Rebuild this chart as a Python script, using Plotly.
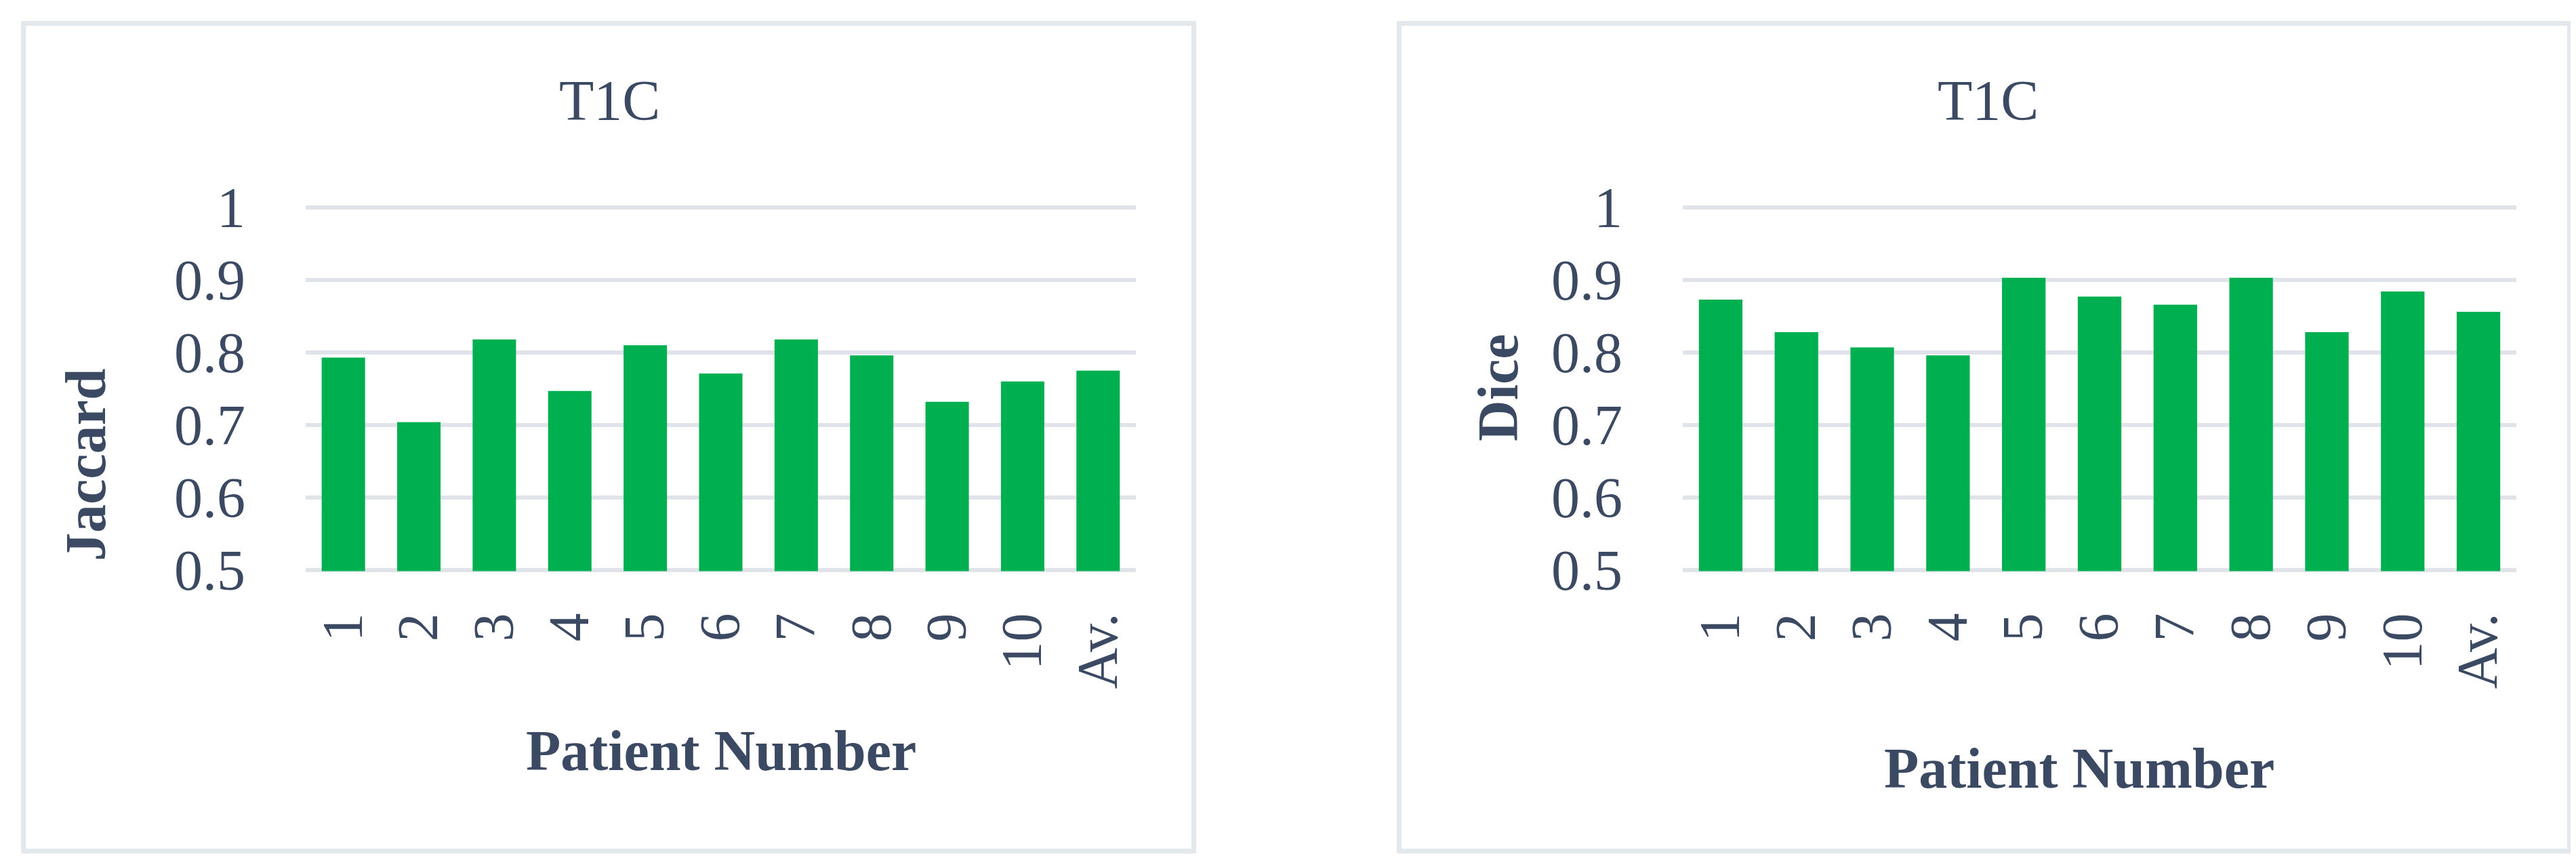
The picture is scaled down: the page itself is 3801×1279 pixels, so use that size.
import plotly.graph_objects as go


# ----------------------------------------
# Data
# ----------------------------------------

patients = ["1", "2", "3", "4", "5", "6", "7", "8", "9", "10", "Av."]

jaccard = [0.793, 0.704, 0.818, 0.747, 0.810, 0.771, 0.818, 0.796, 0.732, 0.760, 0.775]

dice = [0.873, 0.828, 0.807, 0.796, 0.903, 0.877, 0.866, 0.903, 0.828, 0.884, 0.856]

y_ticks = [0.5, 0.6, 0.7, 0.8, 0.9, 1.0]
y_tick_text = ["0.5", "0.6", "0.7", "0.8", "0.9", "1"]


# ----------------------------------------
# Style
# ----------------------------------------

W, H = 3801, 1279

TEXT = "#3B4A62"
GREEN = "#00B050"
GRID = "#E0E4EA"
BORDER = "#E3E8ED"
FONT = "Liberation Serif"
SIZE = 84


def px_x(p):
    return p / W


def px_y(p):
    return 1 - p / H


def x_axis(domain, anchor):

    return dict(
        domain=domain,
        anchor=anchor,
        type="category",
        tickangle=-90,
        automargin=False,
        showgrid=False,
        showline=False,
        zeroline=False,
        ticks="",
        ticklabelstandoff=44,
        tickfont=dict(family=FONT, size=SIZE, color=TEXT)
    )


def y_axis(anchor):

    return dict(
        domain=[px_y(834.6), px_y(296.4)],
        anchor=anchor,
        range=[0.4985, 1.0015],
        tickvals=y_ticks,
        ticktext=y_tick_text,
        automargin=False,
        showgrid=True,
        gridcolor=GRID,
        gridwidth=6,
        showline=False,
        zeroline=False,
        ticks="",
        ticklabelstandoff=88,
        tickfont=dict(family=FONT, size=SIZE, color=TEXT)
    )


def label(text, x, y, bold=False, angle=0):

    return dict(
        text="<b>" + text + "</b>" if bold else text,
        x=px_x(x),
        y=px_y(y),
        xref="paper",
        yref="paper",
        xanchor="center",
        yanchor="middle",
        textangle=angle,
        showarrow=False,
        font=dict(family=FONT, size=SIZE, color=TEXT)
    )


def panel(x0, x1):

    return dict(
        type="rect",
        xref="paper",
        yref="paper",
        x0=px_x(x0),
        x1=px_x(x1),
        y0=px_y(1247.5),
        y1=px_y(26.5),
        line=dict(color=BORDER, width=7),
        layer="below"
    )


# ----------------------------------------
# Figure
# ----------------------------------------

fig = go.Figure()

fig.add_trace(go.Bar(
    x=patients,
    y=jaccard,
    marker=dict(color=GREEN, line=dict(width=0)),
    xaxis="x",
    yaxis="y"
))

fig.add_trace(go.Bar(
    x=patients,
    y=dice,
    marker=dict(color=GREEN, line=dict(width=0)),
    xaxis="x2",
    yaxis="y2"
))

fig.update_layout(

    width=W,
    height=H,
    autosize=False,

    paper_bgcolor="white",
    plot_bgcolor="white",

    margin=dict(l=0, r=0, t=0, b=0, pad=0, autoexpand=False),

    showlegend=False,
    bargap=0.425,

    xaxis=x_axis([px_x(443), px_x(1668)], "y"),
    yaxis=y_axis("x"),

    xaxis2=x_axis([px_x(2475), px_x(3705)], "y2"),
    yaxis2=y_axis("x2"),

    shapes=[
        panel(26.5, 1753.5),
        panel(2056.5, 3783.5)
    ],

    annotations=[
        label("T1C", 891, 140),
        label("T1C", 2925, 140),
        label("Patient Number", 1056, 1099, bold=True),
        label("Patient Number", 3060, 1125, bold=True),
        label("Jaccard", 118, 678, bold=True, angle=-90),
        label("Dice", 2203, 564, bold=True, angle=-90)
    ]
)

fig.write_html("out.html")
